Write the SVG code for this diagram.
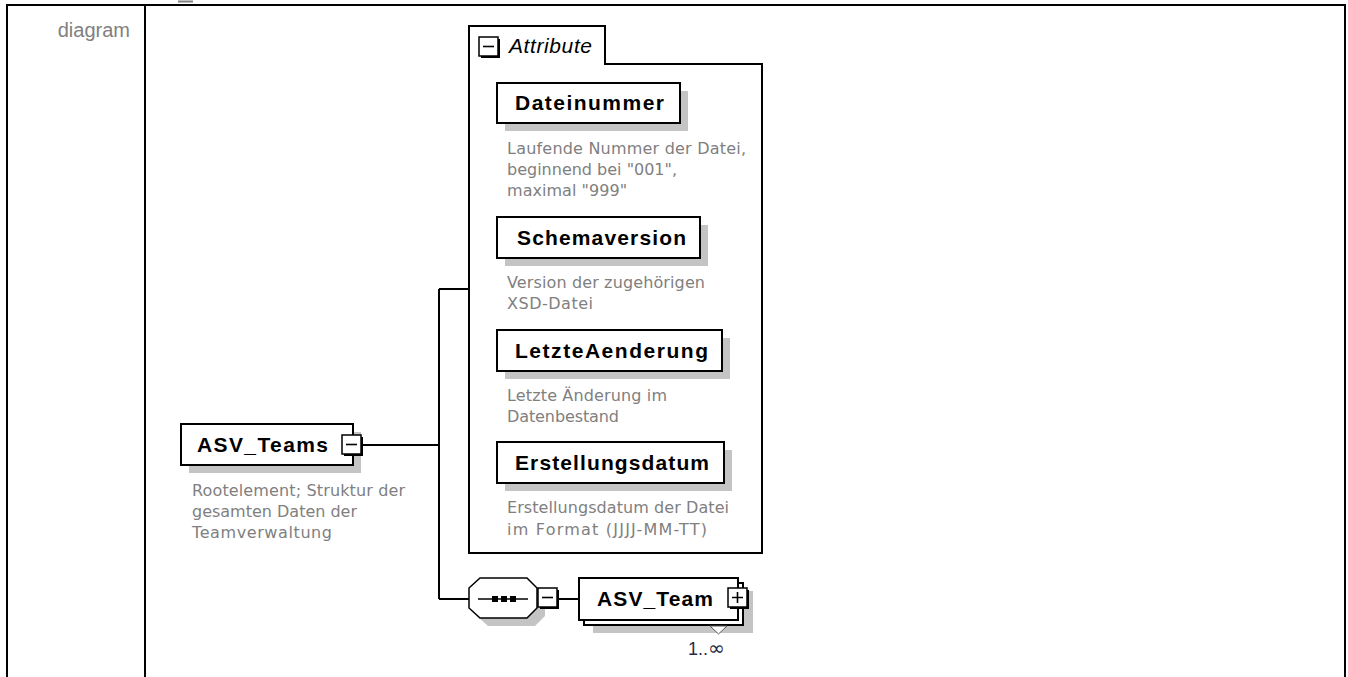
<svg xmlns="http://www.w3.org/2000/svg" width="1348" height="677" viewBox="0 0 1348 677">
<defs>
<style>
.frame{fill:none;stroke:#000;stroke-width:2}
.box{fill:#fff;stroke:#000;stroke-width:2}
.shadow{fill:#c4c4c4}
.title{font-family:"Liberation Sans",Arial,sans-serif;font-weight:bold;font-size:21px;fill:#000}
.desc{font-family:"DejaVu Sans","Liberation Sans",sans-serif;font-size:16px;fill:#808080}
.conn{fill:none;stroke:#000;stroke-width:2}
.btn{fill:#fff;stroke:#000;stroke-width:1.5}
.btnsh{fill:#000}
.sign{stroke:#000;stroke-width:1.6;fill:none}
</style>
</defs>
<rect width="1348" height="677" fill="#fff"/>
<g id="table">
<path class="frame" d="M7,678 V5 H1345 V678 M145,5 V678"/>
<rect x="178" y="0.5" width="15" height="2" fill="#808080"/>
<text x="130" y="37" text-anchor="end" font-family="Liberation Sans,Arial,sans-serif" font-size="20" fill="#808080">diagram</text>
</g>
<g id="connectors">
<path class="conn" d="M361,445 H439 M439,289 V599 M439,289 H469 M439,599 H469 M558,599 H579"/>
</g>
<g id="ASV_Teams">
<rect class="shadow" x="189" y="432" width="172" height="41"/>
<rect class="box" x="181" y="424" width="172" height="41"/>
<text class="title" x="197" y="452" textLength="131" lengthAdjust="spacing">ASV_Teams</text>
<rect class="btnsh" x="344" y="437" width="19" height="19"/>
<rect class="btn" x="342" y="435" width="19" height="19"/>
<path class="sign" d="M346,444.5 H357"/>
<text class="desc" x="192" y="496" textLength="213" lengthAdjust="spacing">Rootelement; Struktur der</text>
<text class="desc" x="192" y="517" textLength="165" lengthAdjust="spacing">gesamten Daten der</text>
<text class="desc" x="192" y="538" textLength="140" lengthAdjust="spacing">Teamverwaltung</text>
</g>
<g id="Attribute">
<path class="box" d="M469,26 H605 V64 H762 V553 H469 Z"/>
<rect class="btnsh" x="481" y="39" width="19" height="19"/>
<rect class="btn" x="479" y="37" width="19" height="19"/>
<path class="sign" d="M483,46.5 H494"/>
<text x="509" y="53" font-family="Liberation Sans,Arial,sans-serif" font-style="italic" font-size="21" fill="#000" textLength="83" lengthAdjust="spacing">Attribute</text>
</g>
<g id="Dateinummer">
<rect class="shadow" x="505" y="91" width="183" height="40"/>
<rect class="box" x="497" y="83" width="183" height="40"/>
<text class="title" x="515" y="110" textLength="149" lengthAdjust="spacing">Dateinummer</text>
<text class="desc" x="507" y="154" textLength="239" lengthAdjust="spacing">Laufende Nummer der Datei,</text>
<text class="desc" x="507" y="175" textLength="170" lengthAdjust="spacing">beginnend bei "001",</text>
<text class="desc" x="507" y="196" textLength="120" lengthAdjust="spacing">maximal "999"</text>
</g>
<g id="Schemaversion">
<rect class="shadow" x="505" y="225" width="203" height="41"/>
<rect class="box" x="497" y="217" width="203" height="41"/>
<text class="title" x="517" y="245" textLength="169" lengthAdjust="spacing">Schemaversion</text>
<text class="desc" x="507" y="288" textLength="198" lengthAdjust="spacing">Version der zugehörigen</text>
<text class="desc" x="507" y="309" textLength="86" lengthAdjust="spacing">XSD-Datei</text>
</g>
<g id="LetzteAenderung">
<rect class="shadow" x="505" y="338" width="225" height="41"/>
<rect class="box" x="497" y="330" width="225" height="41"/>
<text class="title" x="515" y="358" textLength="193" lengthAdjust="spacing">LetzteAenderung</text>
<text class="desc" x="507" y="401" textLength="160" lengthAdjust="spacing">Letzte Änderung im</text>
<text class="desc" x="507" y="422" textLength="112" lengthAdjust="spacing">Datenbestand</text>
</g>
<g id="Erstellungsdatum">
<rect class="shadow" x="505" y="450" width="227" height="41"/>
<rect class="box" x="497" y="442" width="227" height="41"/>
<text class="title" x="515" y="470" textLength="194" lengthAdjust="spacing">Erstellungsdatum</text>
<text class="desc" x="507" y="513" textLength="222" lengthAdjust="spacing">Erstellungsdatum der Datei</text>
<text class="desc" x="507" y="535" textLength="200" lengthAdjust="spacing">im Format (JJJJ-MM-TT)</text>
</g>
<g id="sequence">
<polygon class="shadow" points="488,586 535,586 545,596 545,616 535,626 488,626 477,616 477,596"/>
<polygon fill="#fff" stroke="#000" stroke-width="1.5" points="480,578 527,578 537,588 537,608 527,618 480,618 469,608 469,588"/>
<path stroke="#000" stroke-width="1.5" d="M478,599 H528"/>
<rect x="492" y="596" width="6" height="6" fill="#000"/>
<rect x="501" y="596" width="6" height="6" fill="#000"/>
<rect x="510" y="596" width="6" height="6" fill="#000"/>
<rect class="btnsh" x="540" y="590" width="19" height="19"/>
<rect class="btn" x="538" y="588" width="19" height="19"/>
<path class="sign" d="M542,597.5 H553"/>
</g>
<g id="ASV_Team">
<rect class="shadow" x="593" y="591" width="160" height="42"/>
<rect class="box" x="584" y="583" width="159" height="42"/>
<rect class="box" x="579" y="578" width="159" height="42"/>
<text class="title" x="597" y="606" textLength="116" lengthAdjust="spacing">ASV_Team</text>
<rect class="btnsh" x="730" y="590" width="19" height="19"/>
<rect class="btn" x="728" y="588" width="19" height="19"/>
<path class="sign" d="M732,597.5 H743 M737.5,592 V603"/>
<polygon fill="#fff" stroke="#555" stroke-width="1" points="710,626 727,626 718.5,634"/>
<text x="688" y="655" font-family="Liberation Sans,Arial,sans-serif" font-size="18" fill="#2a2a4a">1..<tspan font-family="DejaVu Sans,sans-serif" font-size="20">∞</tspan></text>
</g>
</svg>
